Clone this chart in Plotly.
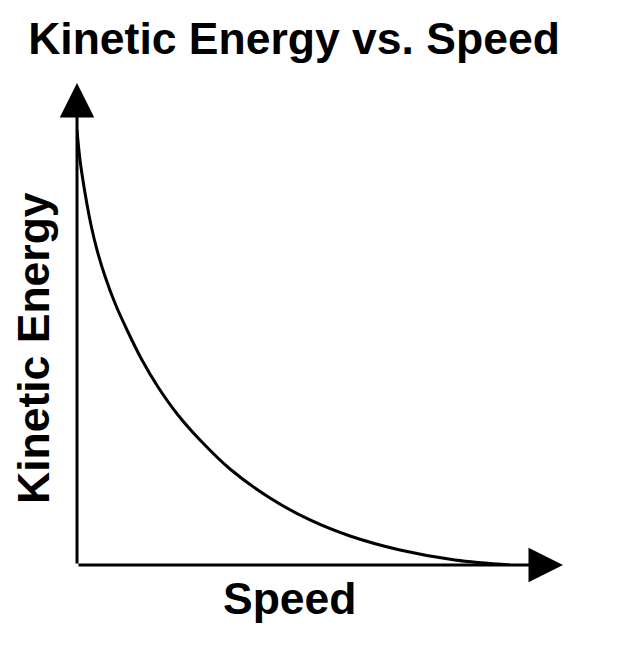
import plotly.graph_objects as go

# Data (arbitrary units)
speed = [0.0, 0.062, 0.165, 0.288, 0.412, 0.576, 0.782, 1.049, 1.337, 1.667,
         2.078, 2.531, 3.148, 3.971, 4.794, 5.617, 6.646, 7.778, 8.909]
kinetic_energy = [9.025, 8.402, 7.718, 7.054, 6.535, 5.990, 5.430, 4.834, 4.253, 3.693,
                  3.112, 2.593, 1.992, 1.390, 0.934, 0.602, 0.311, 0.104, 0.0]

title_text = "Kinetic Energy vs. Speed"
x_label = "Speed"
y_label = "Kinetic Energy"
x_range = [0, 10]
y_range = [0, 10]

FONT = "Liberation Sans, Arial, sans-serif"

fig = go.Figure()
fig.add_trace(go.Scatter(
    x=speed, y=kinetic_energy, mode="lines",
    line=dict(color="black", width=3, shape="spline", smoothing=1.0),
    hoverinfo="skip", showlegend=False, cliponaxis=False,
))

axis_common = dict(showgrid=False, zeroline=False, showline=False,
                   showticklabels=False, ticks="", fixedrange=True)

fig.update_layout(
    width=634, height=662,
    margin=dict(l=69, r=79, t=75, b=105),
    paper_bgcolor="white", plot_bgcolor="white",
    xaxis=dict(range=x_range, **axis_common),
    yaxis=dict(range=y_range, **axis_common),
    title=dict(text="<b>%s</b>" % title_text, font=dict(family=FONT, size=44.5, color="black"),
               xref="container", x=286 / 634, xanchor="center",
               yref="container", y=1 - 15 / 662, yanchor="top"),
    showlegend=False,
)

# Axis arrows
fig.add_annotation(x=x_range[0], y=y_range[1], ax=x_range[0], ay=y_range[0],
                   xref="x", yref="y", axref="x", ayref="y", text="",
                   showarrow=True, arrowhead=2, arrowsize=2.3, arrowwidth=3,
                   arrowcolor="black", standoff=0, startstandoff=0)
fig.add_annotation(x=x_range[1], y=y_range[0], ax=x_range[0], ay=y_range[0],
                   xref="x", yref="y", axref="x", ayref="y", text="",
                   showarrow=True, arrowhead=2, arrowsize=2.3, arrowwidth=3,
                   arrowcolor="black", standoff=0, startstandoff=0)

# Axis labels
fig.add_annotation(text="<b>%s</b>" % x_label, xref="paper", yref="paper",
                   x=(290 - 77) / 486, y=-0.0138, xanchor="center", yanchor="top",
                   showarrow=False, font=dict(family=FONT, size=44.5, color="black"))
fig.add_annotation(text="<b>%s</b>" % y_label, xref="paper", yref="paper",
                   x=(33.5 - 77) / 486, y=(565 - 347.5 - 1) / 482, xanchor="center", yanchor="middle",
                   textangle=-90, showarrow=False,
                   font=dict(family=FONT, size=44.5, color="black"))

fig.write_html("out.html")
